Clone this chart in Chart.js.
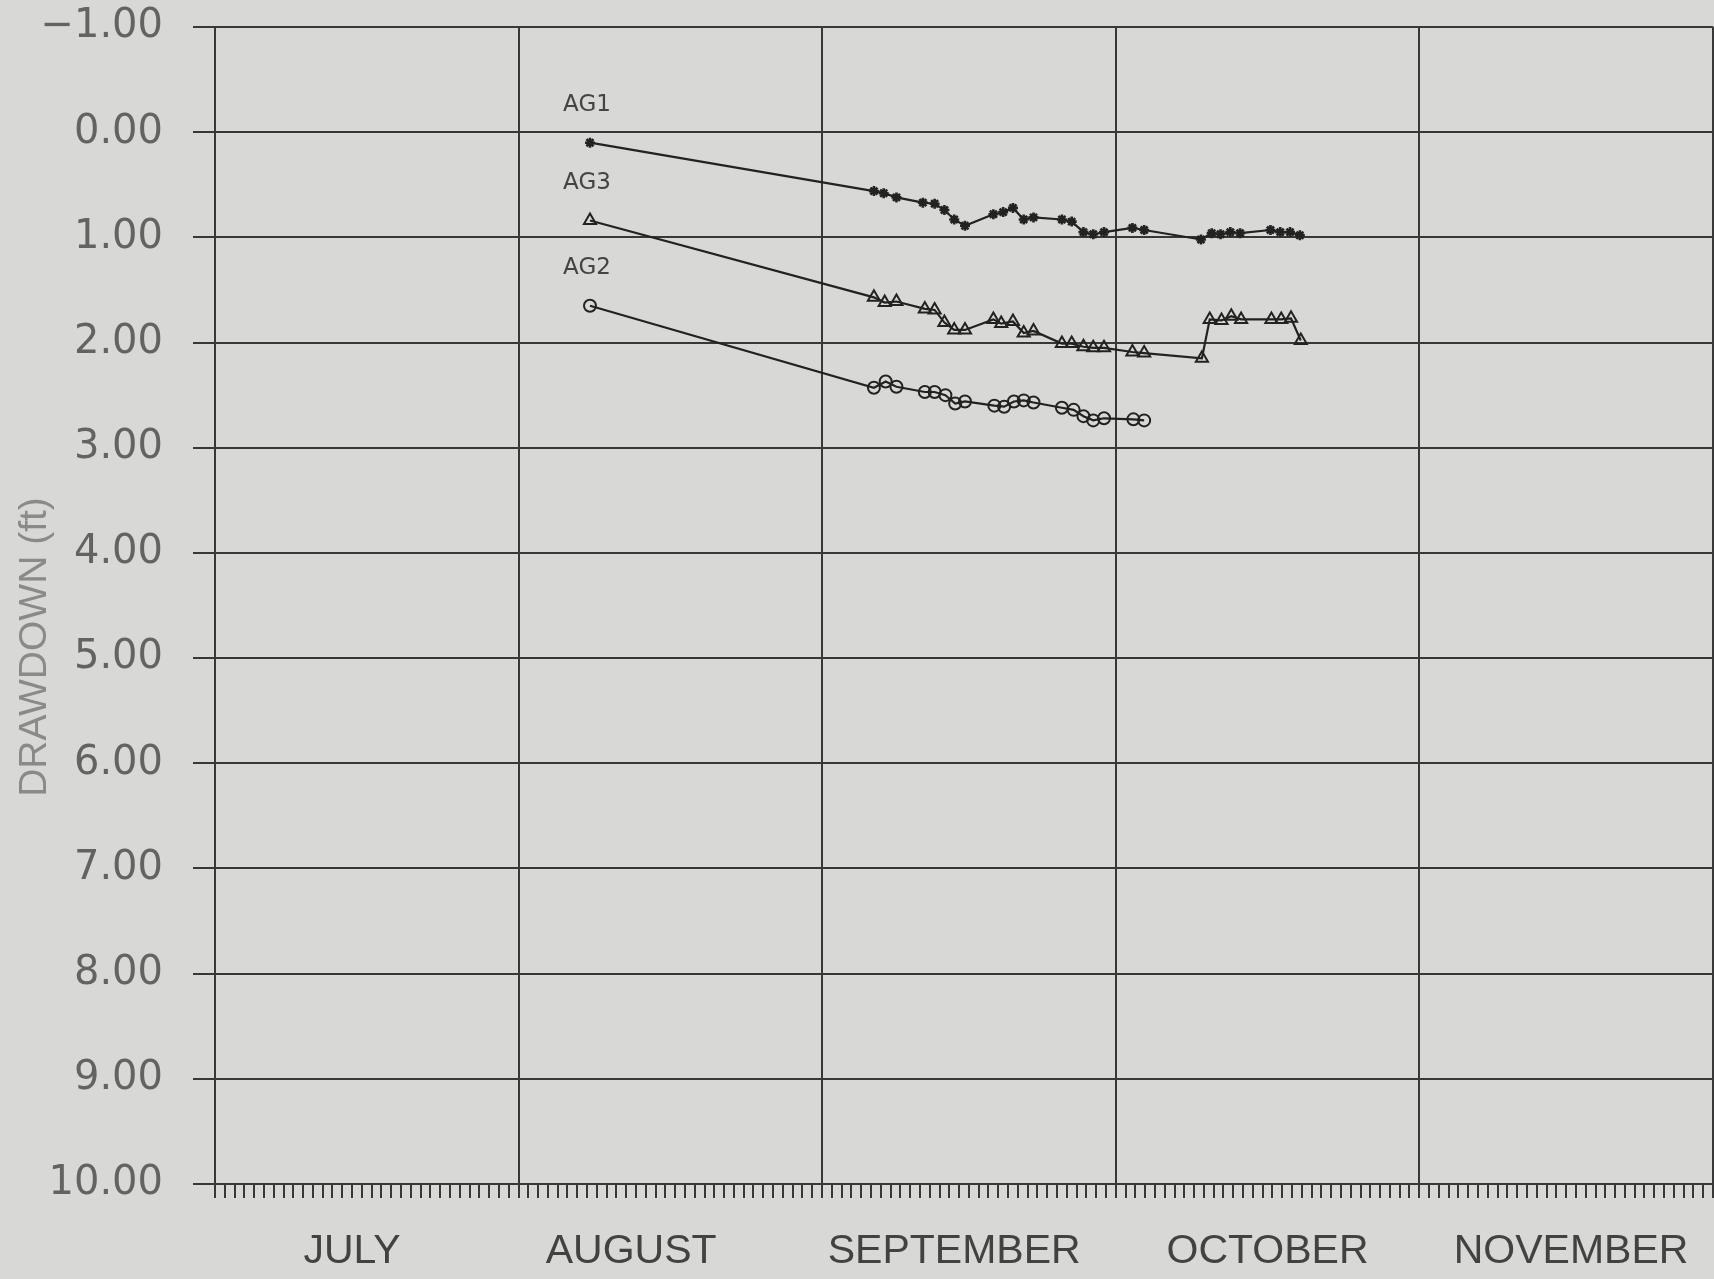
<!DOCTYPE html>
<html>
<head>
<meta charset="utf-8">
<script src="https://cdn.jsdelivr.net/npm/chart.js@4/dist/chart.umd.min.js"></script>
<style>
  html, body { margin: 0; padding: 0; background: #d8d8d6; }
  canvas { display: block; }
</style>
</head>
<body>
<canvas id="c" width="1714" height="1279"></canvas>
<script>
// ---- Data (x = days since July 1, y = drawdown in ft) ----
const monthNames = ['JULY', 'AUGUST', 'SEPTEMBER', 'OCTOBER', 'NOVEMBER'];
const monthStartDays = [0, 31, 62, 92, 123, 153];
const monthLabelDays = [14, 42.5, 75.5, 107.5, 138.5];
const seriesNames = ['AG1', 'AG3', 'AG2'];
const yAxisTitle = 'DRAWDOWN (ft)';

const ag1Days = [38.3, 67.3, 68.3, 69.6, 72.3, 73.5, 74.5, 75.5, 76.6, 79.5, 80.5, 81.5, 82.6, 83.6, 86.5, 87.5, 88.7, 89.7, 90.8, 93.7, 94.9, 100.7, 101.8, 102.7, 103.7, 104.7, 107.8, 108.8, 109.8, 110.8];
const ag1Values = [0.10, 0.56, 0.58, 0.62, 0.67, 0.68, 0.74, 0.83, 0.89, 0.78, 0.76, 0.72, 0.83, 0.81, 0.83, 0.85, 0.95, 0.97, 0.95, 0.91, 0.93, 1.02, 0.96, 0.97, 0.95, 0.96, 0.93, 0.95, 0.95, 0.98];

const ag3Days = [38.3, 67.3, 68.4, 69.6, 72.5, 73.5, 74.5, 75.5, 76.6, 79.5, 80.3, 81.5, 82.6, 83.6, 86.5, 87.5, 88.7, 89.7, 90.8, 93.7, 94.9, 100.8, 101.6, 102.8, 103.8, 104.8, 107.9, 108.9, 109.9, 110.9];
const ag3Values = [0.84, 1.57, 1.62, 1.61, 1.68, 1.69, 1.81, 1.88, 1.88, 1.78, 1.82, 1.80, 1.91, 1.89, 2.01, 2.01, 2.04, 2.05, 2.05, 2.09, 2.10, 2.15, 1.78, 1.79, 1.75, 1.78, 1.78, 1.78, 1.77, 1.98];

const ag2Days = [38.3, 67.3, 68.5, 69.6, 72.5, 73.5, 74.6, 75.6, 76.6, 79.6, 80.6, 81.6, 82.6, 83.6, 86.5, 87.7, 88.7, 89.7, 90.8, 93.8, 94.9];
const ag2Values = [1.65, 2.43, 2.37, 2.42, 2.47, 2.47, 2.50, 2.58, 2.56, 2.60, 2.61, 2.56, 2.55, 2.57, 2.62, 2.64, 2.70, 2.74, 2.72, 2.73, 2.74];

const yMin = -1, yMax = 10, yStep = 1;
const xMin = 0, xMax = 153;

// ---- Helpers ----
const toPoints = (xs, ys) => xs.map((x, i) => ({ x: x, y: ys[i] }));
const INK = '#222222';
const GRID = '#383838';
const CLEAR = 'rgba(0,0,0,0)';

const allXTicks = [...monthStartDays, ...monthLabelDays].sort((a, b) => a - b);

const seriesLabelPlugin = {
  id: 'seriesLabels',
  afterDatasetsDraw(chart) {
    const ctx = chart.ctx;
    ctx.save();
    ctx.font = '23px "DejaVu Sans"';
    ctx.fillStyle = '#444';
    ctx.textAlign = 'center';
    ctx.textBaseline = 'middle';
    chart.data.datasets.forEach((ds, i) => {
      const p = chart.getDatasetMeta(i).data[0];
      if (!p) return;
      ctx.fillText(seriesNames[i], p.x - 3, p.y - 38);
    });
    ctx.restore();
  }
};

const axisTickPlugin = {
  id: 'axisTicks',
  afterDraw(chart) {
    const ctx = chart.ctx;
    const xs = chart.scales.x, ys = chart.scales.y;
    const area = chart.chartArea;
    ctx.save();
    ctx.strokeStyle = '#383838';
    ctx.lineWidth = 2;
    ctx.beginPath();
    // daily minor ticks below the time axis
    for (let d = xMin; d <= xMax; d++) {
      const px = Math.round(xs.getPixelForValue(d));
      ctx.moveTo(px, area.bottom);
      ctx.lineTo(px, area.bottom + 14);
    }
    // short tick stubs left of the value axis
    for (let v = yMin; v <= yMax; v += yStep) {
      const py = Math.round(ys.getPixelForValue(v));
      ctx.moveTo(area.left - 22, py);
      ctx.lineTo(area.left, py);
    }
    ctx.stroke();
    ctx.restore();
  }
};

const yTitlePlugin = {
  id: 'yTitle',
  afterDraw(chart) {
    const ctx = chart.ctx;
    ctx.save();
    ctx.translate(35, 647);
    ctx.rotate(-Math.PI / 2);
    ctx.font = '39px "Liberation Sans"';
    ctx.fillStyle = '#8a8a8a';
    ctx.textAlign = 'center';
    ctx.textBaseline = 'middle';
    ctx.fillText(yAxisTitle, 0, 0);
    ctx.restore();
  }
};

new Chart(document.getElementById('c'), {
  type: 'line',
  data: {
    datasets: [
      {
        label: seriesNames[0],
        data: toPoints(ag1Days, ag1Values),
        borderColor: INK, borderWidth: 2.2,
        pointStyle: 'star', pointRadius: 5, pointBorderWidth: 2.6,
        pointBorderColor: INK, pointBackgroundColor: INK,
        tension: 0
      },
      {
        label: seriesNames[1],
        data: toPoints(ag3Days, ag3Values),
        borderColor: INK, borderWidth: 2.2,
        pointStyle: 'triangle', pointRadius: 7, pointBorderWidth: 2,
        pointBorderColor: INK, pointBackgroundColor: CLEAR,
        tension: 0
      },
      {
        label: seriesNames[2],
        data: toPoints(ag2Days, ag2Values),
        borderColor: INK, borderWidth: 2.2,
        pointStyle: 'circle', pointRadius: 6, pointBorderWidth: 2,
        pointBorderColor: INK, pointBackgroundColor: CLEAR,
        tension: 0
      }
    ]
  },
  options: {
    responsive: false,
    animation: false,
    devicePixelRatio: 1,
    layout: { autoPadding: false, padding: { top: 27, right: 1, left: 0, bottom: 0 } },
    plugins: { legend: { display: false }, tooltip: { enabled: false }, title: { display: false } },
    scales: {
      x: {
        type: 'linear',
        position: 'bottom',
        min: xMin, max: xMax,
        afterBuildTicks(scale) { scale.ticks = allXTicks.map(v => ({ value: v })); },
        afterFit(scale) {
          scale.height = 95;
          scale.paddingLeft = 0;
          scale.paddingRight = 0;
        },
        ticks: {
          autoSkip: false, maxRotation: 0, minRotation: 0,
          padding: 0,
          color: '#424242',
          font: { family: '"Liberation Sans"', size: 41 },
          callback(value) {
            const i = monthLabelDays.indexOf(value);
            return i >= 0 ? monthNames[i] : '';
          }
        },
        grid: {
          drawTicks: true,
          tickLength: 43,
          tickColor: CLEAR,
          lineWidth: 2,
          color(ctx) {
            return (ctx.tick && monthStartDays.includes(ctx.tick.value)) ? GRID : CLEAR;
          }
        },
        border: { display: true, color: GRID, width: 2 }
      },
      y: {
        type: 'linear',
        reverse: true,
        min: yMin, max: yMax,
        afterFit(scale) {
          scale.width = 215;
          scale.paddingTop = 0;
          scale.paddingBottom = 0;
        },
        ticks: {
          stepSize: yStep,
          padding: 0,
          color: '#636363',
          font: { family: '"DejaVu Sans"', size: 40, lineHeight: 1 },
          callback(value) { return value.toFixed(2).replace('-', '\u2212'); }
        },
        grid: { color: GRID, lineWidth: 2, tickLength: 52, drawTicks: true, tickColor: CLEAR },
        border: { display: true, color: GRID, width: 2 }
      }
    }
  },
  plugins: [seriesLabelPlugin, axisTickPlugin, yTitlePlugin]
});
</script>
</body>
</html>
